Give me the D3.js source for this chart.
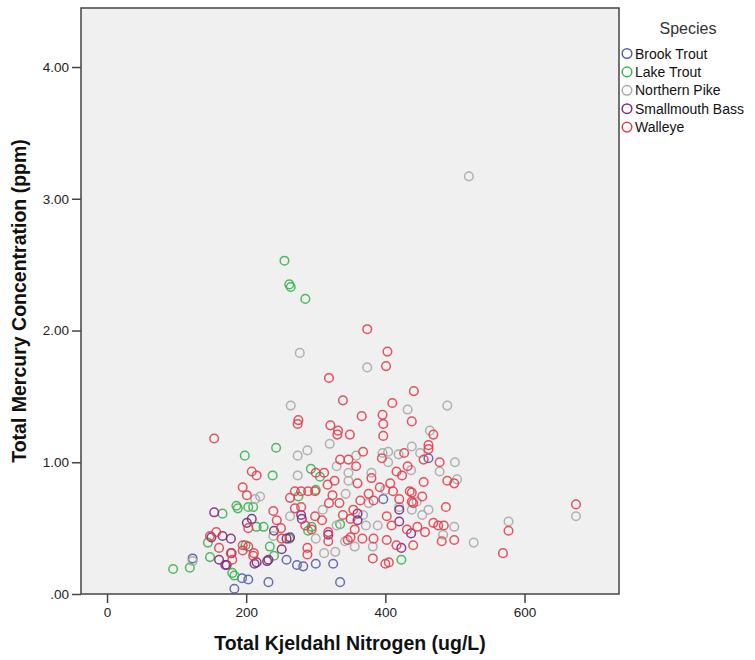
<!DOCTYPE html>
<html>
<head>
<meta charset="utf-8">
<script src="https://cdn.jsdelivr.net/npm/d3@7/dist/d3.min.js"></script>
<style>
  html, body { margin: 0; padding: 0; background: #ffffff; }
  svg { display: block; }
</style>
</head>
<body>
<svg id="chart" width="755" height="660"></svg>
<script>
// Species shown in the legend, in legend order
const species = ["Brook Trout", "Lake Trout", "Northern Pike", "Smallmouth Bass", "Walleye"];
const speciesColors = ["#5560a8", "#3cb44e", "#a9a9a9", "#7e2a82", "#e2404f"];

// [Total Kjeldahl Nitrogen (ug/L), Total Mercury Concentration (ppm)]
const brookTrout = [
  [123,0.27],[183,0.04],[194,0.12],[203,0.11],[232,0.09],[258,0.26],[273,0.22],
  [282,0.21],[300,0.23],[325,0.23],[335,0.09],[397,0.72],[462,1.03]
];
const lakeTrout = [
  [255,2.53],[262,2.35],[264,2.33],[285,2.24],[243,1.11],[198,1.05],[238,0.90],
  [293,0.95],[306,0.89],[275,0.74],[186,0.67],[188,0.65],[203,0.66],[210,0.66],
  [166,0.61],[215,0.51],[225,0.51],[294,0.51],[335,0.53],[199,0.37],[234,0.36],
  [145,0.39],[148,0.28],[119,0.20],[95,0.19],[180,0.16],[183,0.14],[423,0.26],
  [300,0.79],[289,0.48],[262,0.42],[240,0.29]
];
const northernPike = [
  [520,3.17],[277,1.83],[374,1.72],[264,1.43],[489,1.43],[432,1.40],[464,1.24],
  [320,1.14],[288,1.09],[274,1.05],[404,1.08],[419,1.06],[438,1.12],[450,1.07],
  [358,1.05],[396,1.07],[404,1.00],[500,1.00],[478,0.93],[437,0.94],[330,0.97],
  [347,0.92],[347,0.86],[274,0.90],[380,0.92],[503,0.87],[220,0.74],[400,0.79],
  [376,0.69],[445,0.70],[438,0.64],[420,0.66],[263,0.59],[330,0.52],[389,0.52],
  [499,0.51],[483,0.45],[527,0.39],[577,0.55],[674,0.59],[382,0.36],[356,0.36],
  [328,0.32],[312,0.31],[239,0.44],[123,0.25],[213,0.72],[368,0.60],[342,0.40],
  [300,0.42],[310,0.64],[343,0.76],[372,0.52],[453,0.60],[462,0.64]
];
const smallmouthBass = [
  [154,0.62],[208,0.57],[201,0.54],[150,0.43],[166,0.44],[178,0.42],[161,0.26],
  [179,0.31],[172,0.22],[212,0.23],[230,0.25],[232,0.26],[215,0.24],[251,0.34],
  [258,0.42],[263,0.43],[279,0.60],[280,0.57],[318,0.45],[360,0.61],[360,0.56],
  [420,0.64],[420,0.55],[437,0.46],[423,0.35],[170,0.22],[240,0.48]
];
const walleye = [
  [154,1.18],[374,2.01],[403,1.84],[401,1.73],[441,1.54],[410,1.45],[339,1.47],
  [319,1.64],[366,1.35],[396,1.36],[397,1.29],[438,1.31],[274,1.29],[275,1.32],
  [321,1.28],[332,1.24],[331,1.21],[349,1.21],[397,1.20],[469,1.21],[462,1.13],
  [462,1.10],[368,1.08],[427,1.07],[335,1.02],[347,1.02],[395,1.03],[455,1.02],
  [478,1.00],[358,0.97],[432,0.97],[208,0.93],[215,0.90],[300,0.92],[312,0.92],
  [416,0.93],[424,0.90],[327,0.86],[455,0.85],[489,0.86],[499,0.84],[317,0.83],
  [360,0.84],[380,0.88],[407,0.84],[195,0.81],[392,0.81],[411,0.78],[435,0.78],
  [438,0.77],[270,0.78],[279,0.78],[289,0.78],[299,0.78],[201,0.75],[324,0.75],
  [334,0.69],[319,0.69],[364,0.71],[383,0.71],[438,0.70],[440,0.69],[487,0.66],
  [270,0.65],[279,0.66],[354,0.64],[239,0.63],[244,0.56],[299,0.59],[309,0.56],
  [350,0.57],[402,0.59],[203,0.50],[250,0.50],[294,0.49],[356,0.49],[409,0.52],
  [431,0.49],[446,0.51],[469,0.54],[476,0.52],[484,0.52],[457,0.47],[157,0.47],
  [148,0.44],[318,0.47],[318,0.40],[346,0.41],[350,0.43],[367,0.42],[383,0.42],
  [402,0.41],[440,0.37],[416,0.37],[481,0.40],[499,0.41],[577,0.48],[569,0.31],
  [674,0.68],[161,0.35],[178,0.31],[180,0.26],[195,0.33],[210,0.29],[211,0.31],
  [203,0.36],[195,0.37],[288,0.35],[288,0.30],[251,0.42],[382,0.27],[400,0.23],
  [405,0.24],[263,0.73],[285,0.52],[339,0.60],[376,0.76],[420,0.72],[453,0.74]
];
const seriesData = [brookTrout, lakeTrout, northernPike, smallmouthBass, walleye];

// Axis ticks and their labels
const xTicks = [0, 200, 400, 600];
const yTicks = [0, 1, 2, 3, 4];
const yTickLabels = [".00", "1.00", "2.00", "3.00", "4.00"];

const xTitle = "Total Kjeldahl Nitrogen (ug/L)";
const yTitle = "Total Mercury Concentration (ppm)";
const legendTitle = "Species";

const plot = { left: 81, top: 8, right: 619, bottom: 594 };

const svg = d3.select("#chart");

const x = d3.scaleLinear().domain([-37.4, 735.8]).range([plot.left, plot.right]);
const y = d3.scaleLinear().domain([0, 4.448]).range([plot.bottom, plot.top]);

// Plot background
svg.append("rect")
  .attr("x", plot.left).attr("y", plot.top)
  .attr("width", plot.right - plot.left).attr("height", plot.bottom - plot.top)
  .attr("fill", "#f0f0f0");

// Points: hollow circles per species
seriesData.forEach((rows, i) => {
  svg.append("g")
    .attr("class", "series")
    .selectAll("circle")
    .data(rows)
    .join("circle")
    .attr("cx", d => x(d[0]))
    .attr("cy", d => y(d[1]))
    .attr("r", 4.3)
    .attr("fill", "none")
    .attr("stroke", speciesColors[i])
    .attr("stroke-width", 1.5)
    .attr("stroke-opacity", 0.9);
});

// Frame around the plot area
svg.append("rect")
  .attr("x", plot.left).attr("y", plot.top)
  .attr("width", plot.right - plot.left).attr("height", plot.bottom - plot.top)
  .attr("fill", "none")
  .attr("stroke", "#444")
  .attr("stroke-width", 1.5);

// Axes
const xAxis = svg.append("g")
  .attr("transform", `translate(0,${plot.bottom})`)
  .call(d3.axisBottom(x).tickValues(xTicks).tickSize(9).tickPadding(4).tickFormat(d3.format("d")));
const yAxis = svg.append("g")
  .attr("transform", `translate(${plot.left},0)`)
  .call(d3.axisLeft(y).tickValues(yTicks).tickSize(9).tickPadding(3)
    .tickFormat((d, i) => yTickLabels[i]));

[xAxis, yAxis].forEach(g => {
  g.select(".domain").remove();
  g.selectAll(".tick line").attr("stroke", "#444").attr("stroke-width", 1.5);
  g.selectAll(".tick text")
    .attr("fill", "#222")
    .style("font-family", "Arial, 'Liberation Sans', sans-serif")
    .style("font-size", "13.5px");
});

// Axis titles
svg.append("text")
  .attr("x", (plot.left + plot.right) / 2)
  .attr("y", 650)
  .attr("text-anchor", "middle")
  .style("font-family", "Arial, 'Liberation Sans', sans-serif")
  .style("font-weight", "bold")
  .style("font-size", "19.5px")
  .attr("fill", "#111")
  .text(xTitle);

svg.append("text")
  .attr("transform", `translate(26,${(plot.top + plot.bottom) / 2}) rotate(-90)`)
  .attr("text-anchor", "middle")
  .style("font-family", "Arial, 'Liberation Sans', sans-serif")
  .style("font-weight", "bold")
  .style("font-size", "19.5px")
  .attr("fill", "#111")
  .text(yTitle);

// Legend
const legend = svg.append("g");
legend.append("text")
  .attr("x", 688).attr("y", 34)
  .attr("text-anchor", "middle")
  .style("font-family", "Arial, 'Liberation Sans', sans-serif")
  .style("font-size", "16px")
  .attr("fill", "#333")
  .text(legendTitle);

const items = legend.selectAll("g.item")
  .data(species)
  .join("g")
  .attr("class", "item")
  .attr("transform", (d, i) => `translate(627,${53.5 + i * 18.4})`);
items.append("circle")
  .attr("r", 4.8)
  .attr("fill", "none")
  .attr("stroke", (d, i) => speciesColors[i])
  .attr("stroke-width", 1.5);
items.append("text")
  .attr("x", 8).attr("y", 5)
  .style("font-family", "Arial, 'Liberation Sans', sans-serif")
  .style("font-size", "14px")
  .attr("fill", "#111")
  .text(d => d);
</script>
</body>
</html>
